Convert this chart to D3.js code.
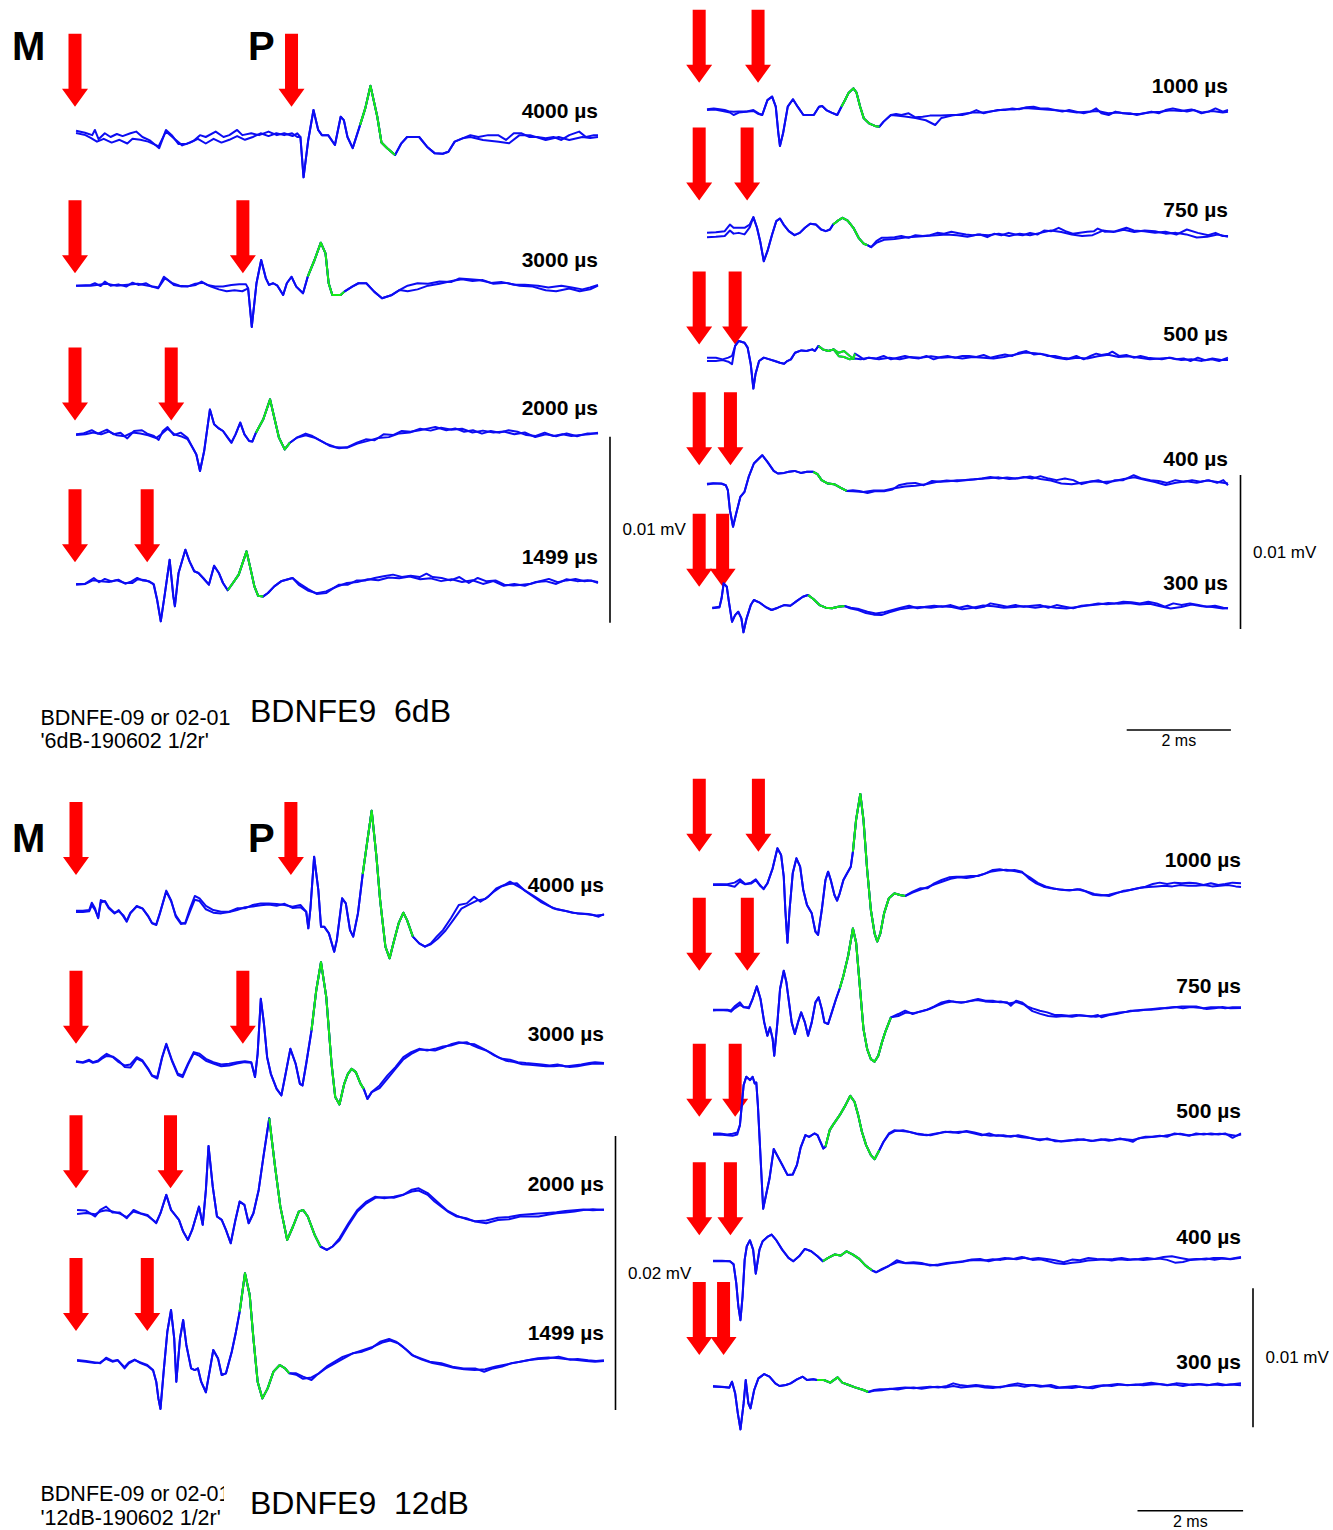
<!DOCTYPE html>
<html>
<head>
<meta charset="utf-8">
<script src="https://cdn.jsdelivr.net/npm/d3@7"></script>
<style>
  body { margin: 0; background: #fff; }
  svg { display: block; }
  text { font-family: "Liberation Sans", Arial, sans-serif; }
</style>
</head>
<body>
<svg id="chart" width="1333" height="1530"></svg>
<script>
// time in ms from trace start, amplitude in µV
// each trace: [pre A, pre B, shared response, post A, post B]

const delaysL = ["4000 µs", "3000 µs", "2000 µs", "1499 µs"];
const delaysR = ["1000 µs", "750 µs", "500 µs", "400 µs", "300 µs"];

//////////////
// 6 dB     //
//////////////
const s6L4000 = [
  [[.02,.34],[.19,.23],[.33,.1],[.38,.38],[.45,-.12],[.57,.2],[.68,0],[.8,.16],[.91,.05],[1.06,.2],[1.17,.29],[1.29,0],[1.44,-.2],[1.61,-.6],[1.74,.38],[1.85,.1],[1.98,-.38],[2.12,-.38],[2.27,-.2],[2.39,.1],[2.5,0],[2.69,.29],[2.84,0],[2.95,.1],[3.1,.38],[3.2,.1],[3.37,.2],[3.52,.1],[3.7,.29],[3.86,.1],[4,.2],[4.16,.05],[4.25,.2]],
  [[.02,.22],[.2,.1],[.3,-.05],[.42,-.25],[.55,-.1],[.7,-.3],[.85,-.15],[1,-.35],[1.1,-.1],[1.25,-.15],[1.4,-.25],[1.6,-.5],[1.74,.3],[1.9,-.1],[2.05,-.45],[2.2,-.3],[2.35,-.1],[2.5,-.35],[2.65,-.1],[2.8,-.3],[2.95,-.15],[3.1,.05],[3.25,-.15],[3.4,0],[3.55,.2],[3.7,.05],[3.85,.2],[4,.1],[4.15,.2],[4.25,0]],
  [[4.31,0],[4.37,-2.17],[4.46,-.16],[4.56,1.45],[4.65,.38],[4.72,.1],[4.84,.1],[4.97,-.43],[5.08,1.09],[5.14,.91],[5.21,0],[5.31,-.6],[5.45,.64],[5.55,1.54],[5.65,2.75],[5.78,1.09],[5.86,-.3],[5.97,-.6],[6.12,-.97],[6.24,-.34],[6.35,0],[6.58,0],[6.73,-.52],[6.88,-.88],[7.03,-.9],[7.14,-.79],[7.26,-.25],[7.41,-.07]],
  [[7.56,.1],[7.71,0],[7.9,.1],[8.09,.1],[8.24,-.16],[8.39,.2],[8.54,.2],[8.69,0],[8.84,0],[9,-.07],[9.15,0],[9.3,-.16],[9.45,.1],[9.64,.29],[9.77,0],[9.92,.1],[10,.1]],
  [[7.56,0],[7.8,-.16],[8.1,-.25],[8.3,-.34],[8.5,.1],[8.7,.1],[9,-.16],[9.25,0],[9.45,-.16],[9.7,0],[9.85,-.05],[10,0]]
];
const s6L3000 = [
  [[.02,0],[.3,.04],[.38,.13],[.49,-.02],[.57,.22],[.68,0],[.83,.07],[.98,-.05],[1.1,.16],[1.21,.04],[1.36,.13],[1.47,-.05],[1.59,-.14],[1.7,.48],[1.78,.3],[1.89,.04],[2.04,-.05],[2.19,-.02],[2.31,.04],[2.42,.22],[2.53,.04],[2.68,-.05],[2.83,-.05],[2.99,.04],[3.14,.07],[3.27,.07]],
  [[.02,0],[.3,0],[.45,.05],[.6,.1],[.8,0],[1,.05],[1.2,.1],[1.4,0],[1.6,-.1],[1.72,.4],[1.85,.15],[2,0],[2.15,-.05],[2.3,.1],[2.45,.15],[2.6,-.05],[2.75,-.2],[2.9,-.3],[3.05,-.25],[3.2,-.3],[3.27,-.2]],
  [[3.31,-.14],[3.38,-2.22],[3.47,.13],[3.56,1.38],[3.65,.39],[3.71,.04],[3.79,.13],[3.87,0],[3.98,-.5],[4.05,.13],[4.14,.48],[4.23,-.05],[4.36,-.41],[4.45,.48],[4.58,1.38],[4.7,2.31],[4.79,1.74],[4.85,.13],[4.92,-.5],[5.08,-.5],[5.15,-.32],[5.3,-.05],[5.42,.13],[5.57,.13],[5.72,-.32],[5.87,-.68],[6.06,-.5],[6.21,-.23]],
  [[6.36,0],[6.55,.13],[6.75,.1],[6.97,.22],[7.2,.2],[7.35,.39],[7.55,.35],[7.73,.3],[7.95,.15],[8.15,.2],[8.4,.05],[8.6,.05],[8.85,0],[9.05,-.1],[9.3,0],[9.5,-.1],[9.7,-.2],[9.85,-.1],[10,.04]],
  [[6.36,-.3],[6.55,-.2],[6.75,0],[6.97,.1],[7.2,.25],[7.4,.35],[7.6,.25],[7.8,.3],[8,.1],[8.25,.15],[8.5,0],[8.75,-.05],[9,-.25],[9.2,-.3],[9.45,-.15],[9.65,-.3],[9.85,-.2],[10,0]]
];
const s6L2000 = [
  [[.02,0],[.15,.04],[.32,.22],[.44,.04],[.61,.25],[.74,0],[.87,.09],[1,-.22],[1.13,.18],[1.28,.22],[1.38,.04],[1.51,-.09],[1.6,-.3],[1.68,.18],[1.77,.39],[1.89,-.04],[2.02,.09],[2.15,-.18]],
  [[.02,-.04],[.2,0],[.35,.1],[.5,0],[.65,.15],[.8,-.05],[.95,-.1],[1.1,.1],[1.25,.05],[1.4,-.05],[1.55,-.2],[1.65,0],[1.77,.3],[1.9,0],[2.02,-.1],[2.15,-.25]],
  [[2.25,-.72],[2.32,-1.08],[2.39,-1.97],[2.47,-.9],[2.58,1.34],[2.66,.54],[2.75,.32],[2.83,.18],[2.92,-.18],[2.99,-.45],[3.07,0],[3.16,.63],[3.24,0],[3.33,-.36],[3.39,-.39],[3.46,.09],[3.6,.81],[3.73,1.88],[3.81,.9],[3.9,-.18],[4.01,-.81],[4.11,-.45],[4.24,-.18]],
  [[4.41,.04],[4.54,-.09],[4.71,-.36],[4.88,-.63],[5.05,-.75],[5.22,-.68],[5.39,-.45],[5.56,-.27],[5.73,-.32],[5.9,0],[6.08,-.04],[6.25,.18],[6.42,.14],[6.59,.22],[6.76,.32],[6.89,.39],[7.1,.22],[7.27,.32],[7.44,.14],[7.61,.22],[7.78,.04],[7.95,.18],[8.12,.09],[8.29,.22],[8.46,.14],[8.63,-.04],[8.81,-.09],[8.98,.09],[9.15,-.09],[9.32,0],[9.49,-.09],[9.66,-.04],[9.83,0],[10,.09]],
  [[4.41,-.05],[4.6,-.2],[4.8,-.5],[5,-.7],[5.2,-.72],[5.4,-.5],[5.6,-.35],[5.8,-.2],[6,-.15],[6.2,.05],[6.4,.1],[6.6,.3],[6.8,.2],[7,.35],[7.2,.25],[7.4,.3],[7.6,.1],[7.8,.2],[8,.1],[8.2,.15],[8.4,0],[8.6,.1],[8.8,-.15],[9,0],[9.2,-.1],[9.4,.05],[9.6,-.1],[9.8,.05],[10,.05]]
];
const s6L1499 = [
  [[.02,-.05],[.19,-.04],[.36,.27],[.46,.04],[.57,.22],[.7,.09],[.83,.18],[.96,-.04],[1.08,.09],[1.19,.27],[1.29,.14],[1.42,.09],[1.51,-.09]],
  [[.02,-.1],[.2,-.05],[.35,.15],[.5,.1],[.65,.05],[.8,.15],[.95,0],[1.1,0],[1.2,.2],[1.35,.15],[1.5,-.05]],
  [[1.57,-.9],[1.64,-2.06],[1.72,-.54],[1.81,1.25],[1.88,-.72],[1.91,-1.25],[1.98,.54],[2.11,1.79],[2.19,1.16],[2.28,.63],[2.36,.54],[2.45,.27],[2.56,-.09],[2.66,.93],[2.75,.54],[2.83,0],[2.92,-.39],[3.02,0],[3.13,.45],[3.28,1.7],[3.36,.72],[3.43,-.18],[3.5,-.68],[3.6,-.72],[3.69,-.54],[3.81,-.18],[3.94,.09],[4.16,.27]],
  [[4.28,0],[4.45,-.32],[4.62,-.59],[4.8,-.54],[4.92,-.32],[5.05,-.09],[5.22,-.09],[5.39,.14],[5.56,.14],[5.73,.27],[5.9,.36],[6.08,.45],[6.25,.32],[6.42,.39],[6.59,.32],[6.72,.5],[6.84,.32],[7.01,.27],[7.18,.14],[7.35,.32],[7.53,0],[7.7,.27],[7.87,.09],[8.04,.14],[8.21,-.09],[8.38,-.14],[8.55,-.09],[8.72,-.04],[8.89,.09],[9.06,.22],[9.23,.04],[9.4,.14],[9.57,.22],[9.74,.09],[9.87,.14],[10,0]],
  [[4.28,-.1],[4.45,-.4],[4.62,-.55],[4.8,-.45],[5,-.2],[5.2,0],[5.4,.05],[5.6,.2],[5.8,.15],[6,.3],[6.2,.25],[6.4,.35],[6.6,.2],[6.8,.25],[7,.1],[7.2,.2],[7.4,.05],[7.6,.15],[7.8,-.05],[8,.1],[8.2,-.15],[8.4,-.05],[8.6,-.15],[8.8,.05],[9,.1],[9.2,-.05],[9.4,.2],[9.6,.1],[9.8,.15],[10,.05]]
];
const s6R1000 = [
  [[0,.11],[.13,.17],[.24,.11],[.34,.06],[.44,-.04],[.51,-.05],[.61,-.04],[.75,-.04],[.89,.06],[.99,-.15],[1.06,-.26]],
  [[0,.06],[.15,.1],[.3,0],[.44,-.1],[.51,-.26],[.61,-.1],[.75,-.05],[.89,0],[.99,-.2],[1.06,-.26]],
  [[1.16,.71],[1.25,.93],[1.32,.28],[1.37,-1.45],[1.4,-2.27],[1.46,-1.45],[1.55,.28],[1.65,.76],[1.74,.28],[1.85,-.26],[1.95,-.26],[2.05,-.26],[2.15,.28],[2.21,.32],[2.29,.06],[2.39,-.11],[2.5,-.26],[2.58,.28],[2.65,.71],[2.72,1.19],[2.81,1.47],[2.87,1.19],[2.94,.28],[3.01,-.48],[3.11,-.8],[3.22,-.97],[3.31,-1.02],[3.39,-.69],[3.53,-.26]],
  [[3.63,-.19],[3.73,-.26],[3.87,-.15],[4,-.41],[4.14,-.37],[4.28,-.3],[4.38,-.3],[4.49,-.3],[4.69,-.26],[4.9,-.26],[5.03,-.15],[5.17,.06],[5.31,-.15],[5.44,-.04],[5.58,.06],[5.72,.06],[5.86,.17],[5.99,.11],[6.13,.24],[6.27,.28],[6.4,.17],[6.54,.17],[6.68,.06],[6.82,-.04],[6.95,.06],[7.09,-.04],[7.23,-.15],[7.36,-.04],[7.47,.17],[7.57,-.15],[7.71,-.26],[7.84,-.04],[7.98,-.15],[8.12,-.15],[8.25,-.26],[8.39,-.15],[8.53,-.04],[8.67,-.15],[8.8,.06],[8.94,.17],[9.08,.06],[9.21,-.04],[9.35,.06],[9.49,-.15],[9.63,-.04],[9.76,.17],[9.9,-.04],[10,.06]],
  [[3.63,-.3],[3.8,-.35],[4,-.45],[4.2,-.6],[4.38,-.91],[4.5,-.45],[4.7,-.3],[4.9,-.2],[5.1,-.1],[5.3,-.1],[5.5,0],[5.7,.1],[5.9,.1],[6.1,.2],[6.3,.15],[6.5,.1],[6.7,.05],[6.9,0],[7.1,-.1],[7.3,-.05],[7.5,0],[7.7,-.15],[7.9,-.1],[8.1,-.2],[8.3,-.2],[8.5,-.1],[8.7,-.05],[8.9,.05],[9.1,0],[9.3,.1],[9.5,-.1],[9.7,0],[9.9,-.1],[10,-.05]]
];
const s6R750 = [
  [[0,.15],[.17,.19],[.34,.26],[.44,.69],[.51,.48],[.61,.48],[.72,.48],[.82,.69]],
  [[0,-.13],[.17,-.1],[.34,-.05],[.44,.3],[.51,.1],[.61,.15],[.72,.05],[.82,.5]],
  [[.89,1.17],[.96,.48],[1.02,-.39],[1.09,-1.69],[1.16,-1.04],[1.25,.04],[1.33,.91],[1.4,1.08],[1.47,.69],[1.57,.26],[1.68,0],[1.78,.15],[1.88,.48],[1.98,.74],[2.09,.69],[2.19,.37],[2.28,.26],[2.36,.37],[2.42,.69],[2.5,.91],[2.6,1.13],[2.7,.95],[2.81,.48],[2.91,-.17],[3.01,-.56],[3.08,-.65],[3.15,-.78]],
  [[3.25,-.39],[3.35,-.17],[3.46,-.17],[3.6,-.13],[3.73,-.06],[3.87,-.17],[4,0],[4.14,-.06],[4.28,0],[4.42,.15],[4.55,.09],[4.69,.22],[4.83,.13],[4.97,.04],[5.1,0],[5.24,.04],[5.38,-.13],[5.51,.09],[5.65,0],[5.79,.15],[5.92,.04],[6.06,0],[6.2,.15],[6.34,.04],[6.47,.3],[6.61,.26],[6.75,.48],[6.88,.26],[7.02,.09],[7.16,.15],[7.3,.22],[7.43,.26],[7.5,.43],[7.64,.22],[7.84,.26],[8.05,.48],[8.19,.3],[8.39,.26],[8.6,.15],[8.8,.22],[9.01,.04],[9.21,.37],[9.42,.15],[9.62,0],[9.76,.15],[9.9,-.06],[10,-.06]],
  [[3.25,-.5],[3.4,-.3],[3.6,-.25],[3.8,-.15],[4,-.1],[4.2,-.05],[4.4,0],[4.6,.05],[4.8,0],[5,-.1],[5.2,.05],[5.4,0],[5.6,.1],[5.8,-.05],[6,.1],[6.2,0],[6.4,.15],[6.6,.3],[6.8,.2],[7,.05],[7.2,-.05],[7.4,0],[7.6,.3],[7.8,.2],[8,.35],[8.2,.2],[8.4,.3],[8.6,.25],[8.8,.1],[9,.15],[9.2,.05],[9.4,-.15],[9.6,-.1],[9.8,.05],[10,-.1]]
];
const s6R500 = [
  [[0,.11],[.17,.11],[.3,0],[.41,.11],[.48,.22]],
  [[0,-.1],[.17,-.11],[.3,-.05],[.41,-.15],[.48,-.32]],
  [[.54,.87],[.61,1.19],[.72,1.08],[.78,.76],[.84,-.32],[.89,-1.9],[.93,-.97],[1,-.11],[1.09,.11],[1.2,0],[1.3,-.11],[1.4,-.22],[1.48,-.28],[1.54,-.11],[1.61,0],[1.69,.43],[1.81,.58],[1.91,.54],[2.02,.65],[2.07,.54],[2.14,.87],[2.22,.65],[2.33,.54],[2.43,.65]],
  [[2.53,.43],[2.63,.54],[2.74,.22],[2.81,.06],[2.84,.37],[2.91,.22],[3.01,0],[3.11,.11],[3.25,.06],[3.39,.22],[3.53,0],[3.66,.11],[3.8,.22],[3.94,.11],[4.07,.06],[4.21,.22],[4.35,0],[4.49,.15],[4.62,.22],[4.76,.11],[4.9,.22],[5.03,.22],[5.17,.15],[5.31,.28],[5.44,.11],[5.58,.22],[5.72,.32],[5.86,.22],[5.99,.43],[6.13,.54],[6.27,.32],[6.4,.37],[6.54,.22],[6.68,.22],[6.82,.11],[6.95,.06],[7.09,.22],[7.23,0],[7.36,.22],[7.47,.37],[7.57,.28],[7.71,.37],[7.78,.5],[7.91,.22],[8.05,.28],[8.19,.11],[8.32,.22],[8.46,.11],[8.6,.06],[8.73,0],[8.87,.11],[9.01,0],[9.15,.06],[9.28,-.11],[9.42,.11],[9.56,-.06],[9.69,0],[9.83,-.11],[10,.11]],
  [[2.53,.2],[2.63,.15],[2.74,0],[2.84,.06],[2.95,0],[3.1,.1],[3.3,0],[3.5,.1],[3.7,0],[3.9,.15],[4.1,.1],[4.3,.2],[4.5,.1],[4.7,.15],[4.9,.05],[5.1,.15],[5.3,.1],[5.5,.05],[5.7,.15],[5.9,.3],[6.1,.45],[6.3,.4],[6.5,.3],[6.7,.1],[6.9,0],[7.1,.1],[7.3,.05],[7.5,.2],[7.7,.3],[7.9,.15],[8.1,.2],[8.3,.1],[8.5,0],[8.7,.05],[8.9,.1],[9.1,-.05],[9.3,0],[9.5,-.1],[9.7,.05],[9.9,-.05],[10,-.05]]
];
const s6R400 = [
  [[0,-.06],[.12,0],[.28,0],[.36,-.11]],
  [[0,-.02],[.12,.02],[.28,-.02],[.36,-.11]],
  [[.4,-.43],[.44,-1.73],[.5,-2.81],[.56,-1.95],[.64,-.87],[.72,-.54],[.8,.43],[.9,1.3],[1.06,1.84],[1.16,1.41],[1.28,.82],[1.36,.65],[1.48,.69],[1.57,.76],[1.68,.82],[1.8,.69],[1.92,.76],[2.04,.76],[2.12,.61],[2.2,.22],[2.32,0],[2.44,-.04],[2.56,-.26],[2.68,-.48]],
  [[2.8,-.43],[2.92,-.48],[3.08,-.61],[3.24,-.48],[3.4,-.5],[3.56,-.39],[3.68,-.11],[3.84,0],[4,.04],[4.16,-.11],[4.32,.17],[4.48,.11],[4.64,.15],[4.8,.22],[4.96,.22],[5.12,.26],[5.28,.32],[5.44,.43],[5.6,.32],[5.76,.39],[5.92,.32],[6.08,.43],[6.24,.32],[6.4,.48],[6.56,.32],[6.71,.22],[6.87,.32],[7.03,.22],[7.19,-.04],[7.35,.11],[7.51,.22],[7.67,0],[7.83,.22],[7.99,.22],[8.19,.54],[8.35,.32],[8.51,.22],[8.67,.17],[8.83,.04],[8.99,.22],[9.15,.11],[9.31,.22],[9.47,.11],[9.63,.22],[9.79,.04],[9.91,.22],[10,-.11]],
  [[2.8,-.5],[3,-.55],[3.2,-.45],[3.4,-.45],[3.6,-.3],[3.8,-.2],[4,-.15],[4.2,-.05],[4.4,.1],[4.6,.2],[4.8,.15],[5,.25],[5.2,.3],[5.4,.35],[5.6,.4],[5.8,.3],[6,.35],[6.2,.45],[6.4,.3],[6.6,.2],[6.8,0],[7,-.05],[7.2,.05],[7.4,.15],[7.6,.1],[7.8,.15],[8,.3],[8.2,.4],[8.4,.25],[8.6,.1],[8.8,-.1],[9,.05],[9.2,.15],[9.4,.05],[9.6,.2],[9.8,.1],[10,0]]
];
const s6R300 = [
  [[.1,0],[.24,.06]],
  [[.1,-.04],[.24,.02]],
  [[.28,.61],[.32,1.58],[.38,1.36],[.42,.39],[.48,-.91],[.54,-.48],[.6,-.26],[.66,-.69],[.7,-1.6],[.76,-.69],[.84,.17],[.9,.5],[1,.35],[1.12,.06],[1.24,-.15],[1.36,0],[1.48,.17],[1.6,.13],[1.72,.43],[1.84,.71],[1.94,.82],[2.04,.56],[2.16,.17],[2.28,0],[2.4,-.04],[2.52,.06],[2.64,.11]],
  [[2.76,0],[2.92,-.09],[3.08,-.26],[3.24,-.37],[3.4,-.3],[3.56,-.15],[3.72,0],[3.88,.13],[4.04,-.04],[4.2,.06],[4.36,.13],[4.52,.06],[4.68,.17],[4.84,0],[5,.13],[5.16,-.04],[5.32,.06],[5.44,.28],[5.6,.17],[5.76,.06],[5.92,.17],[6.08,.06],[6.24,.13],[6.4,.17],[6.55,0],[6.71,.17],[6.87,.06],[7.03,-.04],[7.19,.13],[7.35,.17],[7.51,.28],[7.67,.22],[7.83,.28],[7.99,.39],[8.15,.35],[8.31,.28],[8.47,.39],[8.63,.28],[8.79,.06],[8.95,.28],[9.11,.17],[9.27,.28],[9.43,.17],[9.59,.06],[9.75,.13],[9.91,0],[10,-.04]],
  [[2.76,-.05],[2.9,-.15],[3.05,-.35],[3.2,-.45],[3.35,-.48],[3.5,-.3],[3.7,-.1],[3.9,0],[4.1,.05],[4.3,0],[4.5,.1],[4.7,.05],[4.9,-.1],[5.1,0],[5.3,.15],[5.5,.1],[5.7,0],[5.9,.05],[6.1,.1],[6.3,0],[6.5,.1],[6.7,0],[6.9,-.05],[7.1,.05],[7.3,.15],[7.5,.2],[7.7,.3],[7.9,.25],[8.1,.3],[8.3,.2],[8.5,.25],[8.7,.1],[8.9,-.05],[9.1,.05],[9.3,.2],[9.5,.1],[9.7,.05],[9.9,-.05],[10,-.04]]
];

const probe6L = [4.14, 3.21, 1.84, 1.38];
const probe6R = [0.98, 0.77, 0.54, 0.45, 0.30];
const green6L = [[5.45, 6.12], [4.45, 5.15], [3.46, 4.11], [2.92, 3.6]];
const green6R = [[2.58, 3.31], [2.42, 3.08], [2.14, 2.84], [2.04, 2.68], [1.94, 2.64]];
const arrowUv6L = [1.63, 0.67, 0.75, 1.11];
const arrowUv6R = [1.84, 2.25, 0.97, 1.19, 1.36];
const masker6 = [0, -0.15];
const bar6Uv = [10, 10];
const bar6Text = ["0.01 mV", "0.01 mV"];
const title6 = "BDNFE9  6dB";
const sub6 = ["BDNFE-09 or 02-01", "'6dB-190602 1/2r'"];

//////////////
// 12 dB    //
//////////////
const s12L4000 = [
  [[0,.15],[.13,.15],[.25,.19],[.3,.73],[.36,.32],[.42,-.41],[.47,.92],[.55,.8],[.62,.32],[.73,-.05],[.81,.19],[.9,-.29],[.96,-.66],[1.03,-.05],[1.15,.49],[1.26,.32],[1.37,-.29],[1.44,-.78],[1.52,-.9],[1.59,-.05],[1.71,1.61],[1.8,.92],[1.89,-.29],[1.99,-.83],[2.07,-.73],[2.16,.32],[2.25,1.22],[2.34,1.05],[2.46,.49],[2.6,.19],[2.75,.07],[2.9,.07],[3.05,.32],[3.2,.32],[3.35,.56],[3.5,.68],[3.65,.68],[3.8,.63],[3.95,.56],[4.1,.44],[4.25,.56]],
  [[0,.05],[.13,.05],[.25,.1],[.3,.55],[.36,.2],[.42,-.35],[.47,.75],[.55,.85],[.62,.4],[.73,0],[.81,.1],[.9,-.2],[.96,-.6],[1.03,0],[1.15,.45],[1.26,.3],[1.37,-.25],[1.44,-.75],[1.52,-.85],[1.59,0],[1.71,1.55],[1.8,.85],[1.89,-.2],[1.99,-.75],[2.07,-.8],[2.16,.1],[2.25,.95],[2.34,.85],[2.46,.25],[2.6,0],[2.75,-.05],[2.9,.05],[3.05,.2],[3.2,.4],[3.35,.45],[3.5,.55],[3.65,.6],[3.8,.5],[3.95,.65],[4.1,.35],[4.25,.4]],
  [[4.36,.07],[4.4,-1.14],[4.44,.32],[4.51,4.09],[4.59,1.65],[4.64,-1.02],[4.7,-1.02],[4.79,-1.51],[4.89,-2.85],[4.94,-2],[5.04,1.05],[5.11,.68],[5.19,-1.27],[5.25,-1.75],[5.34,-.05],[5.43,2.82],[5.52,5.3],[5.6,7.45],[5.69,4.09],[5.76,.92],[5.86,-2.48],[5.94,-3.33],[6.01,-2.24],[6.11,-.78],[6.2,0],[6.27,-.54],[6.38,-1.75],[6.5,-2.24],[6.61,-2.48]],
  [[6.72,-2.24],[6.83,-1.75],[6.95,-1.27],[7.1,-.41],[7.25,.56],[7.4,.68],[7.54,1.17],[7.66,.8],[7.81,1.17],[7.96,1.78],[8.11,2.02],[8.22,2.26],[8.33,2.02],[8.44,1.78],[8.59,1.41],[8.74,1.05],[8.89,.68],[9.04,.32],[9.19,.19],[9.34,.07],[9.49,-.05],[9.64,-.1],[9.79,-.17],[9.9,-.29],[10,-.1]],
  [[6.72,-2.3],[6.85,-1.9],[7,-1.3],[7.15,-.5],[7.3,.3],[7.45,.6],[7.6,.9],[7.75,1],[7.9,1.5],[8.05,1.9],[8.2,2.1],[8.35,2.15],[8.5,1.6],[8.65,1.2],[8.8,.8],[8.95,.5],[9.1,.25],[9.25,.15],[9.4,0],[9.55,-.05],[9.7,-.1],[9.85,-.2],[10,-.15]]
];
const s12L3000 = [
  [[0,.07],[.13,0],[.25,.17],[.32,0],[.42,.12],[.49,.36],[.58,.61],[.7,.36],[.81,0],[.92,-.24],[1.03,-.17],[1.15,.36],[1.26,.12],[1.37,-.49],[1.44,-.97],[1.54,-1.09],[1.63,.36],[1.71,1.34],[1.82,.12],[1.93,-.85],[2.02,-.97],[2.12,-.12],[2.23,.73],[2.34,.61],[2.46,.24],[2.6,0],[2.75,-.17],[2.9,-.12],[3.05,0],[3.2,.07],[3.32,0]],
  [[0,.02],[.13,-.05],[.25,.1],[.32,-.05],[.42,.05],[.49,.25],[.58,.45],[.7,.4],[.81,.1],[.92,-.35],[1.03,-.4],[1.15,.25],[1.26,.05],[1.37,-.55],[1.44,-1],[1.54,-1.2],[1.63,.3],[1.71,1.3],[1.82,.05],[1.93,-.95],[2.02,-1.1],[2.12,-.2],[2.23,.65],[2.34,.45],[2.46,.1],[2.6,-.1],[2.75,-.3],[2.9,-.25],[3.05,-.1],[3.2,0],[3.32,-.05]],
  [[3.39,-1.09],[3.44,.61],[3.5,4.62],[3.56,2.8],[3.62,.36],[3.69,-.85],[3.8,-1.95],[3.89,-2.43],[3.97,-.85],[4.06,.97],[4.16,-.12],[4.24,-1.58],[4.29,-1.7],[4.36,-.12],[4.46,2.31],[4.55,5.23],[4.64,7.3],[4.74,4.74],[4.84,-.12],[4.91,-2.55],[4.99,-3.09],[5.08,-1.58],[5.15,-.85],[5.22,-.49],[5.3,-.73],[5.39,-1.58],[5.45,-1.95],[5.52,-2.68],[5.6,-2.19]],
  [[5.75,-1.7],[5.9,-.97],[6.05,-.36],[6.2,.36],[6.35,.73],[6.5,.97],[6.65,.85],[6.8,.97],[6.95,1.14],[7.1,1.22],[7.25,1.39],[7.4,1.46],[7.51,1.22],[7.62,1.05],[7.77,.85],[7.92,.49],[8.07,.24],[8.22,.17],[8.37,0],[8.52,-.07],[8.67,-.12],[8.82,-.17],[8.97,-.24],[9.12,-.17],[9.27,-.32],[9.42,-.24],[9.57,-.17],[9.72,-.07],[9.83,0],[10,-.07]],
  [[5.75,-1.9],[5.9,-1.2],[6.05,-.5],[6.2,.2],[6.35,.6],[6.5,.9],[6.65,.9],[6.8,.85],[6.95,1.05],[7.1,1.3],[7.25,1.45],[7.4,1.35],[7.55,1.3],[7.7,1],[7.85,.7],[8,.35],[8.15,.1],[8.3,0],[8.45,-.15],[8.6,-.2],[8.75,-.25],[8.9,-.3],[9.05,-.3],[9.2,-.25],[9.35,-.35],[9.5,-.3],[9.65,-.2],[9.8,-.1],[10,-.12]]
];
const s12L2000 = [
  [[.02,.12],[.19,.07],[.36,-.36],[.46,.12],[.57,.36],[.69,-.07],[.83,-.07],[.96,-.49],[1.09,.12],[1.22,-.12],[1.35,-.24],[1.52,-.85]],
  [[.02,-.17],[.19,-.1],[.36,-.2],[.46,0],[.57,.1],[.69,0],[.83,-.15],[.96,-.4],[1.09,0],[1.22,-.15],[1.35,-.3],[1.52,-.8]],
  [[1.6,-.12],[1.71,1.22],[1.8,.12],[1.95,-.61],[2.03,-1.46],[2.12,-2.07],[2.2,-1.34],[2.33,.36],[2.4,-.97],[2.46,1.58],[2.51,4.79],[2.59,1.82],[2.67,-.36],[2.76,-.61],[2.84,-1.34],[2.93,-2.31],[3.02,-.61],[3.1,.73],[3.19,.49],[3.27,-.85],[3.36,-.12],[3.46,1.58],[3.55,4.01],[3.66,6.81],[3.77,3.28],[3.87,.36],[4,-2.07],[4.11,-1.09],[4.22,0],[4.3,.12],[4.39,-.36],[4.52,-1.7],[4.63,-2.55],[4.75,-2.8],[4.86,-2.55]],
  [[4.99,-1.95],[5.16,-.85],[5.33,.12],[5.5,.73],[5.67,1.09],[5.84,.97],[6.02,1.09],[6.19,1.22],[6.36,1.46],[6.49,1.53],[6.66,1.22],[6.79,.73],[6.92,.36],[7.04,0],[7.21,-.36],[7.39,-.49],[7.56,-.73],[7.77,-.85],[7.99,-.61],[8.2,-.56],[8.41,-.36],[8.59,-.36],[8.76,-.36],[8.93,-.24],[9.1,-.12],[9.27,-.07],[9.44,0],[9.61,.12],[9.79,.17],[10,.12]],
  [[4.99,-2.1],[5.16,-1],[5.33,0],[5.5,.6],[5.67,1],[5.84,1.05],[6.02,1],[6.19,1.2],[6.36,1.6],[6.49,1.7],[6.66,1.35],[6.79,.9],[6.92,.45],[7.04,.05],[7.21,-.3],[7.39,-.55],[7.56,-.7],[7.77,-.65],[7.99,-.45],[8.2,-.4],[8.41,-.25],[8.59,-.2],[8.76,-.15],[8.93,-.1],[9.1,-.05],[9.27,.05],[9.44,.1],[9.61,.15],[9.79,.1],[10,.15]]
];
const s12L1499 = [
  [[.02,.07],[.19,0],[.36,-.1],[.46,-.17],[.57,.24],[.69,0],[.79,.07],[.92,-.54],[1,-.17],[1.11,.07],[1.22,-.1],[1.35,-.29],[1.46,-.66]],
  [[.02,.02],[.19,-.05],[.36,-.15],[.46,-.1],[.57,.15],[.69,-.05],[.79,.05],[.92,-.45],[1,-.1],[1.11,.1],[1.22,-.15],[1.35,-.35],[1.46,-.7]],
  [[1.52,-1.51],[1.56,-2.73],[1.6,-3.5],[1.66,-.78],[1.73,2.14],[1.8,3.72],[1.86,1.65],[1.9,-1.51],[1.97,1.65],[2.03,2.99],[2.09,1.17],[2.18,-.54],[2.25,-.66],[2.31,-.54],[2.37,-1.51],[2.46,-2.28],[2.54,-.54],[2.6,.8],[2.69,.19],[2.76,-1.02],[2.84,-.9],[2.95,.68],[3.03,2.14],[3.1,3.6],[3.2,6.4],[3.29,4.82],[3.36,1.65],[3.44,-1.51],[3.53,-2.73],[3.63,-2],[3.74,-.78],[3.86,-.29],[3.96,-.54],[4.04,-.9]],
  [[4.17,-.9],[4.3,-1.14],[4.46,-1.39],[4.56,-1.02],[4.73,-.54],[4.9,-.17],[5.07,.19],[5.24,.56],[5.42,.68],[5.59,.92],[5.76,1.41],[5.93,1.61],[6.06,1.41],[6.19,1.05],[6.36,.44],[6.53,.19],[6.7,-.05],[6.92,-.17],[7.13,-.41],[7.34,-.54],[7.56,-.54],[7.73,-.78],[7.9,-.54],[8.07,-.41],[8.24,-.17],[8.41,-.05],[8.59,.07],[8.76,.15],[8.93,.19],[9.14,.32],[9.31,.15],[9.49,.07],[9.66,0],[9.83,-.05],[10,0]],
  [[4.17,-1],[4.3,-1.3],[4.46,-1.2],[4.6,-.9],[4.75,-.4],[4.9,-.05],[5.05,.3],[5.2,.5],[5.4,.75],[5.6,1],[5.8,1.35],[5.95,1.5],[6.1,1.3],[6.25,.85],[6.4,.35],[6.55,.1],[6.75,-.15],[6.95,-.3],[7.15,-.5],[7.35,-.6],[7.55,-.65],[7.75,-.6],[7.95,-.4],[8.15,-.25],[8.35,-.1],[8.55,.05],[8.75,.2],[8.95,.25],[9.15,.2],[9.35,.1],[9.5,.15],[9.7,.05],[9.85,0],[10,.05]]
];
const s12R1000 = [
  [[0,0],[.13,0],[.27,0],[.41,.12],[.51,.36],[.61,.02],[.72,.12],[.81,.36],[.89,-.05],[.96,-.36],[1.03,.07]],
  [[0,-.05],[.13,-.03],[.27,-.05],[.41,-.17],[.51,.2],[.61,0],[.72,.05],[.81,.3],[.89,-.1],[.96,-.3],[1.03,.05]],
  [[1.13,1.15],[1.22,2.59],[1.29,2.11],[1.34,.55],[1.37,-1.85],[1.41,-4.2],[1.45,-1.85],[1.51,.79],[1.58,1.87],[1.65,1.27],[1.71,-.41],[1.78,-1.49],[1.87,-2.09],[1.94,-3.41],[1.99,-3.64],[2.06,-1.85],[2.13,.31],[2.18,.91],[2.23,.31],[2.3,-.77],[2.35,-1.18],[2.4,-.65],[2.47,.31],[2.54,.79],[2.61,1.27],[2.65,2.35],[2.71,4.63],[2.79,6.5],[2.85,4.63],[2.92,1.03],[2.99,-1.85],[3.06,-3.53],[3.11,-4.12],[3.17,-3.53],[3.24,-2.09],[3.33,-1.01],[3.44,-.65],[3.54,-.77],[3.64,-.84]],
  [[3.78,-.53],[3.92,-.29],[4.06,-.29],[4.19,.07],[4.33,.31],[4.47,.5],[4.61,.55],[4.75,.55],[4.88,.6],[5.02,.6],[5.16,.79],[5.3,1.03],[5.43,1.08],[5.57,.98],[5.71,1.03],[5.85,.91],[5.98,.43],[6.12,.07],[6.26,-.17],[6.4,-.29],[6.54,-.36],[6.67,-.41],[6.81,-.41],[6.95,-.36],[7.09,-.53],[7.22,-.7],[7.36,-.77],[7.5,-.84],[7.64,-.65],[7.78,-.46],[7.91,-.41],[8.05,-.29],[8.19,-.17],[8.33,.02],[8.46,.12],[8.6,.02],[8.74,.12],[8.88,.07],[9.02,.12],[9.15,.07],[9.29,-.05],[9.43,.07],[9.57,-.05],[9.7,.02],[9.84,.12],[10,.07]],
  [[3.78,-.6],[3.92,-.4],[4.06,-.2],[4.2,0],[4.35,.2],[4.5,.4],[4.65,.5],[4.8,.45],[4.95,.55],[5.1,.7],[5.25,.9],[5.4,1],[5.55,1.05],[5.7,.95],[5.85,.85],[6,.5],[6.15,.1],[6.3,-.15],[6.45,-.3],[6.6,-.4],[6.75,-.45],[6.9,-.35],[7.05,-.5],[7.2,-.75],[7.35,-.8],[7.5,-.75],[7.65,-.6],[7.8,-.5],[7.95,-.35],[8.1,-.25],[8.25,-.2],[8.4,-.15],[8.55,-.1],[8.7,-.15],[8.85,-.05],[9,-.1],[9.15,-.1],[9.3,-.05],[9.45,-.15],[9.6,-.1],[9.75,-.05],[9.9,-.15],[10,-.2]]
];
const s12R750 = [
  [[0,0],[.13,0],[.27,0],[.34,-.05],[.41,.24],[.51,.53],[.58,.17],[.68,.17]],
  [[0,-.05],[.13,-.02],[.27,-.05],[.34,-.14],[.41,.1],[.51,.35],[.58,.2],[.68,.1]],
  [[.75,.77],[.83,1.68],[.9,.77],[.97,-.91],[1.03,-1.87],[1.08,-1.27],[1.13,-2.11],[1.16,-3.31],[1.22,-.91],[1.27,1.49],[1.34,2.81],[1.39,1.97],[1.44,.53],[1.49,-.91],[1.55,-1.75],[1.61,-.91],[1.67,-.19],[1.74,-.91],[1.8,-1.87],[1.87,-.91],[1.94,.53],[2,.89],[2.06,.05],[2.11,-.91],[2.18,-1.03],[2.25,-.19],[2.33,.77],[2.4,1.53],[2.47,2.45],[2.56,3.88],[2.65,5.85],[2.71,4.84],[2.78,1.73],[2.85,-1.39],[2.92,-2.83],[2.99,-3.55],[3.06,-3.74],[3.13,-3.31],[3.2,-2.35],[3.26,-1.63],[3.37,-.55]],
  [[3.51,-.31],[3.64,-.07],[3.78,-.31],[3.92,-.14],[4.06,0],[4.19,.24],[4.33,.53],[4.47,.65],[4.61,.53],[4.75,.53],[4.88,.65],[5.02,.77],[5.16,.65],[5.3,.65],[5.43,.53],[5.57,.53],[5.64,.29],[5.74,.65],[5.85,.53],[5.95,.24],[6.05,.1],[6.19,-.07],[6.33,-.19],[6.47,-.38],[6.6,-.38],[6.74,-.43],[6.88,-.38],[7.02,-.43],[7.16,-.48],[7.29,-.38],[7.36,-.55],[7.5,-.38],[7.64,-.31],[7.78,-.19],[7.91,-.07],[8.05,-.07],[8.19,0],[8.33,.05],[8.46,.1],[8.6,.1],[8.74,.17],[8.88,.24],[9.02,.24],[9.15,.24],[9.29,.1],[9.43,.17],[9.57,.17],[9.7,.1],[9.84,.17],[10,.17]],
  [[3.51,-.45],[3.65,-.2],[3.8,-.25],[3.95,-.1],[4.1,.05],[4.25,.3],[4.4,.5],[4.55,.6],[4.7,.5],[4.85,.6],[5,.7],[5.15,.6],[5.3,.55],[5.45,.6],[5.6,.45],[5.75,.55],[5.9,.35],[6.05,-.1],[6.2,-.3],[6.35,-.45],[6.5,-.5],[6.65,-.45],[6.8,-.5],[6.95,-.4],[7.1,-.45],[7.25,-.5],[7.4,-.4],[7.55,-.3],[7.7,-.2],[7.85,-.15],[8,-.05],[8.15,0],[8.3,0],[8.45,.05],[8.6,.15],[8.75,.2],[8.9,.1],[9.05,.2],[9.2,.15],[9.35,.05],[9.5,.1],[9.65,.2],[9.8,.1],[10,.12]]
];
const s12R500 = [
  [[0,.12],[.13,.12],[.27,.05],[.37,.1],[.46,.19]],
  [[0,.02],[.13,.05],[.27,0],[.37,-.05],[.46,.05]],
  [[.51,.72],[.58,3.6],[.63,4.2],[.7,3.96],[.75,4.2],[.79,3.72],[.82,3.79],[.85,2.16],[.95,-5.3],[1.07,-3.12],[1.15,-1],[1.31,-2.13],[1.41,-2.86],[1.51,-2.83],[1.59,-2.14],[1.66,-.9],[1.75,0],[1.82,-.12],[1.92,.12],[1.98,0],[2.02,-.36],[2.09,-.96],[2.13,-.84],[2.21,.36],[2.27,.72],[2.4,1.44],[2.51,2.16],[2.6,2.83],[2.68,2.4],[2.75,1.44],[2.82,.24],[2.9,-.72],[2.99,-1.44],[3.06,-1.73],[3.15,-1.08],[3.23,-.48]],
  [[3.33,.12],[3.44,.36],[3.57,.29],[3.71,.24],[3.85,.12],[3.99,.05],[4.12,0],[4.26,.12],[4.4,.24],[4.54,.19],[4.68,.24],[4.81,.24],[4.95,.12],[5.09,0],[5.23,.12],[5.37,-.05],[5.5,0],[5.64,-.12],[5.78,0],[5.92,-.12],[6.05,-.24],[6.19,-.36],[6.33,-.24],[6.47,-.43],[6.6,-.43],[6.74,-.36],[6.88,-.36],[7.02,-.29],[7.16,-.43],[7.29,-.36],[7.43,-.29],[7.57,-.36],[7.71,-.24],[7.84,-.36],[7.95,-.48],[8.05,-.24],[8.19,-.12],[8.33,-.12],[8.46,-.05],[8.6,-.12],[8.74,.12],[8.88,.05],[9.02,-.05],[9.15,.12],[9.29,.05],[9.43,.12],[9.57,.05],[9.7,.12],[9.84,-.19],[10,.12]],
  [[3.33,.05],[3.45,.3],[3.6,.35],[3.75,.2],[3.9,.05],[4.05,0],[4.2,.1],[4.35,.2],[4.5,.25],[4.65,.15],[4.8,.3],[4.95,.2],[5.1,.05],[5.25,-.05],[5.4,0],[5.55,-.1],[5.7,-.05],[5.85,-.15],[6,-.2],[6.15,-.3],[6.3,-.3],[6.45,-.35],[6.6,-.45],[6.75,-.4],[6.9,-.3],[7.05,-.35],[7.2,-.4],[7.35,-.3],[7.5,-.4],[7.65,-.3],[7.8,-.3],[7.95,-.35],[8.1,-.2],[8.25,-.15],[8.4,-.1],[8.55,-.05],[8.7,.05],[8.85,.1],[9,0],[9.15,.05],[9.3,.1],[9.45,.05],[9.6,.1],[9.75,.05],[9.9,-.05],[10,.05]]
];
const s12R400 = [
  [[0,-.05],[.17,-.05],[.32,-.05],[.39,-.29]],
  [[0,-.02],[.17,-.02],[.32,-.05],[.39,-.25]],
  [[.44,-1.61],[.48,-3.29],[.52,-4.29],[.56,-2.57],[.6,.07],[.64,1.03],[.7,1.46],[.76,.79],[.81,-.94],[.88,.79],[.94,1.39],[1.03,1.7],[1.11,1.87],[1.19,1.51],[1.31,.79],[1.43,.19],[1.52,-.05],[1.63,.31],[1.74,.84],[1.86,.67],[1.98,.31],[2.08,-.05],[2.18,.19],[2.3,.43],[2.42,.36],[2.53,.67],[2.65,.43],[2.77,.12],[2.89,-.36],[3.01,-.7],[3.09,-.84]],
  [[3.2,-.6],[3.32,-.41],[3.48,.02],[3.64,-.17],[3.8,-.12],[3.95,-.17],[4.11,-.36],[4.27,-.29],[4.43,-.17],[4.59,-.12],[4.74,-.05],[4.9,.07],[5.06,.12],[5.22,-.05],[5.37,.07],[5.53,.19],[5.69,.12],[5.85,.26],[6.01,.12],[6.16,.19],[6.32,.12],[6.48,.02],[6.64,-.12],[6.8,.07],[6.95,.02],[7.11,.19],[7.27,.12],[7.43,.07],[7.58,.12],[7.74,.19],[7.9,.07],[8.06,.12],[8.22,.19],[8.37,.12],[8.53,.26],[8.69,.31],[8.85,.19],[9.01,.07],[9.16,.12],[9.32,.07],[9.48,.19],[9.64,.19],[9.79,.12],[10,.26]],
  [[3.2,-.65],[3.35,-.35],[3.5,-.1],[3.65,-.2],[3.8,-.2],[3.95,-.25],[4.1,-.3],[4.25,-.35],[4.4,-.25],[4.55,-.15],[4.7,-.1],[4.85,0],[5,.05],[5.15,0],[5.3,.1],[5.45,.05],[5.6,.15],[5.75,.1],[5.9,.2],[6.05,.05],[6.2,.1],[6.35,-.05],[6.5,-.2],[6.65,-.25],[6.8,-.15],[6.95,-.1],[7.1,0],[7.25,.05],[7.4,.1],[7.55,0],[7.7,.1],[7.85,.05],[8,.1],[8.15,.05],[8.3,.1],[8.45,.15],[8.6,.05],[8.75,-.15],[8.9,-.1],[9.05,.05],[9.2,.1],[9.35,.15],[9.5,.05],[9.65,.15],[9.8,.1],[10,.2]]
];
const s12R300 = [
  [[0,0],[.17,-.05],[.31,-.1]],
  [[0,-.05],[.17,-.08],[.31,-.12]],
  [[.36,.31],[.42,-.53],[.47,-1.97],[.52,-3.12],[.58,-1.25],[.62,.43],[.67,-1.25],[.71,-1.61],[.78,-.29],[.86,.55],[.97,.86],[1.07,.67],[1.18,.19],[1.26,0],[1.38,.07],[1.47,.19],[1.59,.48],[1.7,.67],[1.78,.43],[1.9,.48],[1.97,.43],[2.1,.43],[2.22,.24],[2.36,.62],[2.45,.24],[2.57,.07],[2.69,-.1],[2.85,-.29],[2.94,-.43]],
  [[3.05,-.29],[3.16,-.24],[3.32,-.24],[3.48,-.17],[3.64,-.1],[3.8,-.17],[3.95,-.1],[4.11,-.05],[4.27,-.1],[4.43,0],[4.55,.19],[4.67,.07],[4.82,0],[4.98,.07],[5.14,0],[5.3,-.05],[5.45,-.1],[5.61,.07],[5.77,.19],[5.93,.07],[6.09,.07],[6.24,0],[6.4,.07],[6.56,-.1],[6.72,-.05],[6.87,0],[7.03,-.1],[7.19,-.17],[7.35,0],[7.51,.07],[7.66,.14],[7.82,.07],[7.98,.07],[8.14,.14],[8.3,.24],[8.45,.14],[8.61,.07],[8.77,.19],[8.93,.14],[9.09,.07],[9.24,.12],[9.4,.07],[9.56,.19],[9.72,.07],[9.88,.14],[10,.19]],
  [[3.05,-.35],[3.2,-.3],[3.35,-.2],[3.5,-.25],[3.65,-.15],[3.8,-.1],[3.95,-.2],[4.1,-.1],[4.25,-.05],[4.4,-.1],[4.55,0],[4.7,-.1],[4.85,-.05],[5,0],[5.15,-.1],[5.3,-.15],[5.45,-.05],[5.6,0],[5.75,.05],[5.9,-.05],[6.05,.05],[6.2,-.05],[6.35,0],[6.5,-.15],[6.65,-.1],[6.8,-.15],[6.95,-.05],[7.1,-.1],[7.25,0],[7.4,.05],[7.55,0],[7.7,.1],[7.85,.05],[8,.1],[8.15,.05],[8.3,.1],[8.45,.15],[8.6,.05],[8.75,.1],[8.9,0],[9.05,.1],[9.2,.15],[9.35,.05],[9.5,.1],[9.65,.05],[9.8,.1],[10,.05]]
];

const probe12L = [4.07, 3.16, 1.79, 1.35];
const probe12R = [0.86, 0.65, 0.42, 0.33, 0.20];
const green12L = [[5.43, 6.38], [4.46, 5.45], [3.66, 4.63], [3.1, 4.04]];
const green12R = [[2.65, 3.64], [2.4, 3.37], [2.13, 3.15], [2.08, 3.01], [1.97, 2.94]];
const arrowUv12L = [2.75, 1.34, 1.7, 2.19];
const arrowUv12R = [2.35, 2.81, 1.32, 1.82, 2.23];
const masker12 = [0, -0.26];
const bar12Uv = [20, 10];
const bar12Text = ["0.02 mV", "0.01 mV"];
const title12 = "BDNFE9  12dB";
const sub12 = ["BDNFE-09 or 02-01", "'12dB-190602 1/2r'"];

const hbarMs = 2;

////////////
// LAYOUT //
////////////
const BLUE = "#0c0cf2", GREEN = "#16ec16", RED = "#ff0000";

const panels = [
  {
    traces: [[s6L4000, s6L3000, s6L2000, s6L1499], [s6R1000, s6R750, s6R500, s6R400, s6R300]],
    probe: [probe6L, probe6R], green: [green6L, green6R], arrowUv: [arrowUv6L, arrowUv6R],
    masker: masker6, barUv: bar6Uv, barText: bar6Text, title: title6, sub: sub6,
    cols: [
      { x: [75, 598], rows: [137, 583], pxUv: 18.6, dy: -19, bar: [610, 622.7] },
      { x: [707, 1228], rows: [111, 607.7], pxUv: 15.4, dy: -18, bar: [1240.5, 629] }
    ],
    mpY: 60, hbar: [1126.7, 730], subY: [725, 748], titleY: 722, subClip: false
  },
  {
    traces: [[s12L4000, s12L3000, s12L2000, s12L1499], [s12R1000, s12R750, s12R500, s12R400, s12R300]],
    probe: [probe12L, probe12R], green: [green12L, green12R], arrowUv: [arrowUv12L, arrowUv12R],
    masker: masker12, barUv: bar12Uv, barText: bar12Text, title: title12, sub: sub12,
    cols: [
      { x: [76, 604], rows: [912.7, 1361], pxUv: 13.7, dy: -21, bar: [615.5, 1410] },
      { x: [713, 1241], rows: [884.3, 1386], pxUv: 13.9, dy: -17, bar: [1253, 1427.3] }
    ],
    mpY: 852, hbar: [1137.5, 1510.7], subY: [1501, 1525.2], titleY: 1513.5, subClip: true
  }
];

const svg = d3.select("#chart");
const gArrows = svg.append("g").attr("class", "arrows");
const gTraces = svg.append("g").attr("class", "traces");
const gText = svg.append("g").attr("class", "labels");

// the lower caption's first line is cut by its box in the original
svg.append("defs").append("clipPath").attr("id", "subclip")
  .append("rect").attr("x", 0).attr("y", 1470).attr("width", 224).attr("height", 45);

// red down arrow with its tip at (cx, tipY)
function drawArrow(cx, tipY) {
  const len = 73, head = 18, sw = 6.5, hw = 13;
  const top = tipY - len, neck = tipY - head;
  gArrows.append("path")
    .attr("d", `M${cx - sw},${top}H${cx + sw}V${neck}H${cx + hw}L${cx},${tipY}L${cx - hw},${neck}H${cx - sw}Z`)
    .attr("fill", RED);
}

function drawTrace(seg, x, y, green) {
  const [pa, pb, r, qa, qb] = seg;
  const line = d3.line().x(d => x(d[0])).y(d => y(d[1]));
  [pb.concat(r, qb), pa.concat(r, qa)].forEach(pts => {
    gTraces.append("path")
      .attr("d", line(pts))
      .attr("fill", "none").attr("stroke", BLUE)
      .attr("stroke-width", 2).attr("stroke-linejoin", "round");
    const gp = pts.filter(d => d[0] >= green[0] - 1e-6 && d[0] <= green[1] + 1e-6);
    gTraces.append("path")
      .attr("d", line(gp))
      .attr("fill", "none").attr("stroke", GREEN)
      .attr("stroke-width", 2).attr("stroke-linejoin", "round");
  });
}

panels.forEach(p => {
  let xRight;
  p.cols.forEach((c, ci) => {
    const x = d3.scaleLinear().domain([0, 10]).range(c.x);
    if (ci === 1) xRight = x;
    const labels = ci === 0 ? delaysL : delaysR;
    const row = d3.scalePoint().domain(labels).range(c.rows);

    labels.forEach((lab, i) => {
      const base = row(lab);
      const y = d3.scaleLinear().domain([0, 1]).range([base, base - c.pxUv]);
      const tip = y(p.arrowUv[ci][i]);
      drawArrow(x(p.masker[ci]), tip);
      drawArrow(x(p.probe[ci][i]), tip);
      drawTrace(p.traces[ci][i], x, y, p.green[ci][i]);
      gText.append("text")
        .attr("x", x(10)).attr("y", base + c.dy)
        .attr("text-anchor", "end")
        .attr("font-size", 21).attr("font-weight", "bold")
        .text(lab);
    });

    // amplitude scale bar
    const yb = d3.scaleLinear().domain([0, 1]).range([c.bar[1], c.bar[1] - c.pxUv]);
    gText.append("line")
      .attr("x1", c.bar[0]).attr("x2", c.bar[0])
      .attr("y1", yb(0)).attr("y2", yb(p.barUv[ci]))
      .attr("stroke", "#000").attr("stroke-width", 1.6);
    gText.append("text")
      .attr("x", c.bar[0] + 12.5).attr("y", yb(p.barUv[ci] / 2))
      .attr("dominant-baseline", "central")
      .attr("font-size", 17)
      .text(p.barText[ci]);
  });

  // time scale bar
  const len = xRight(hbarMs) - xRight(0);
  gText.append("line")
    .attr("x1", p.hbar[0]).attr("x2", p.hbar[0] + len)
    .attr("y1", p.hbar[1]).attr("y2", p.hbar[1])
    .attr("stroke", "#000").attr("stroke-width", 1.6);
  gText.append("text")
    .attr("x", p.hbar[0] + len / 2).attr("y", p.hbar[1] + 16)
    .attr("text-anchor", "middle").attr("font-size", 16)
    .text(hbarMs + " ms");

  // M / P markers
  gText.append("text").attr("x", 12).attr("y", p.mpY)
    .attr("font-size", 40).attr("font-weight", "bold").text("M");
  gText.append("text").attr("x", 248).attr("y", p.mpY)
    .attr("font-size", 40).attr("font-weight", "bold").text("P");

  // captions
  const s1 = gText.append("text").attr("x", 40.5).attr("y", p.subY[0])
    .attr("font-size", 21.5).text(p.sub[0]);
  if (p.subClip) s1.attr("clip-path", "url(#subclip)");
  gText.append("text").attr("x", 40.5).attr("y", p.subY[1])
    .attr("font-size", 21.5).text(p.sub[1]);
  gText.append("text").attr("x", 250).attr("y", p.titleY)
    .attr("font-size", 32).style("white-space", "pre").text(p.title);
});
</script>
</body>
</html>
